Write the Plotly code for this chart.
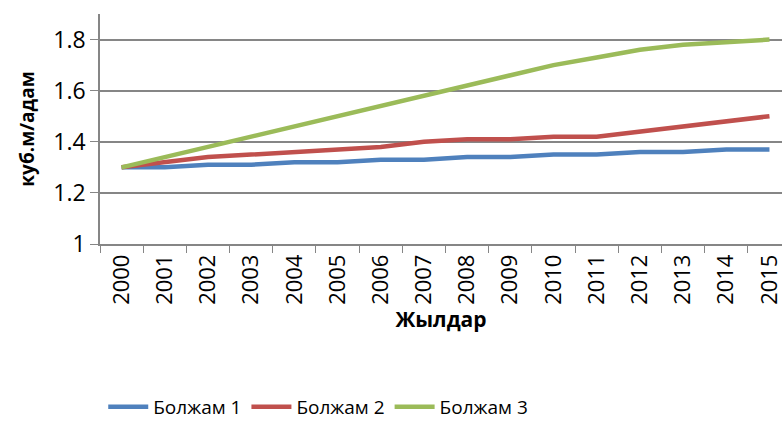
import plotly.graph_objects as go

years = [str(y) for y in range(2000, 2016)]
forecast1 = [1.30, 1.30, 1.31, 1.31, 1.32, 1.32, 1.33, 1.33, 1.34, 1.34, 1.35, 1.35, 1.36, 1.36, 1.37, 1.37]
forecast2 = [1.30, 1.32, 1.34, 1.35, 1.36, 1.37, 1.38, 1.40, 1.41, 1.41, 1.42, 1.42, 1.44, 1.46, 1.48, 1.50]
forecast3 = [1.30, 1.34, 1.38, 1.42, 1.46, 1.50, 1.54, 1.58, 1.62, 1.66, 1.70, 1.73, 1.76, 1.78, 1.79, 1.80]
names = ["Болжам 1", "Болжам 2", "Болжам 3"]
colors = ["#4F81BD", "#C0504D", "#9BBB59"]

font = "'Open Sans', sans-serif"
fig = go.Figure()
for name, vals, c in zip(names, [forecast1, forecast2, forecast3], colors):
    fig.add_trace(go.Scatter(x=years, y=vals, name=name, mode="lines",
                             line=dict(color=c, width=4.5)))

fig.update_layout(
    width=782, height=426,
    margin=dict(l=100, r=0, t=14, b=177),
    paper_bgcolor="white", plot_bgcolor="white",
    font=dict(family=font, size=22, color="black"),
    showlegend=True,
    legend=dict(orientation="h", x=0.32, xanchor="center", y=-0.71, yanchor="middle",
                font=dict(size=19), itemwidth=40, traceorder="normal"),
    xaxis=dict(type="category", range=[-0.5, 15.29], tickson="boundaries",
               ticks="outside", ticklen=7, tickcolor="#868686",
               showline=True, linecolor="#868686", linewidth=1.5,
               showgrid=False, tickangle=-90, tickfont=dict(size=22),
               automargin=False,
               title=dict(text="<b>Жылдар</b>", font=dict(size=21), standoff=4)),
    yaxis=dict(range=[1, 1.9], tickvals=[1, 1.2, 1.4, 1.6, 1.8],
               ticktext=["1", "1.2", "1.4", "1.6", "1.8"],
               ticks="outside", ticklen=8, tickcolor="#868686",
               showline=True, linecolor="#868686", linewidth=1.5,
               showgrid=True, gridcolor="#868686", gridwidth=1.5,
               zeroline=False, tickfont=dict(size=23), automargin=False,
               title=dict(text="<b>куб.м/адам</b>", font=dict(size=19), standoff=14)),
)
fig.write_html(
    "out.html", config={"displayModeBar": False},
    post_script=(
        "document.body.style.margin='0';"
        "document.body.style.overflow='hidden';"
        "document.documentElement.style.overflow='hidden';"
    ),
)
